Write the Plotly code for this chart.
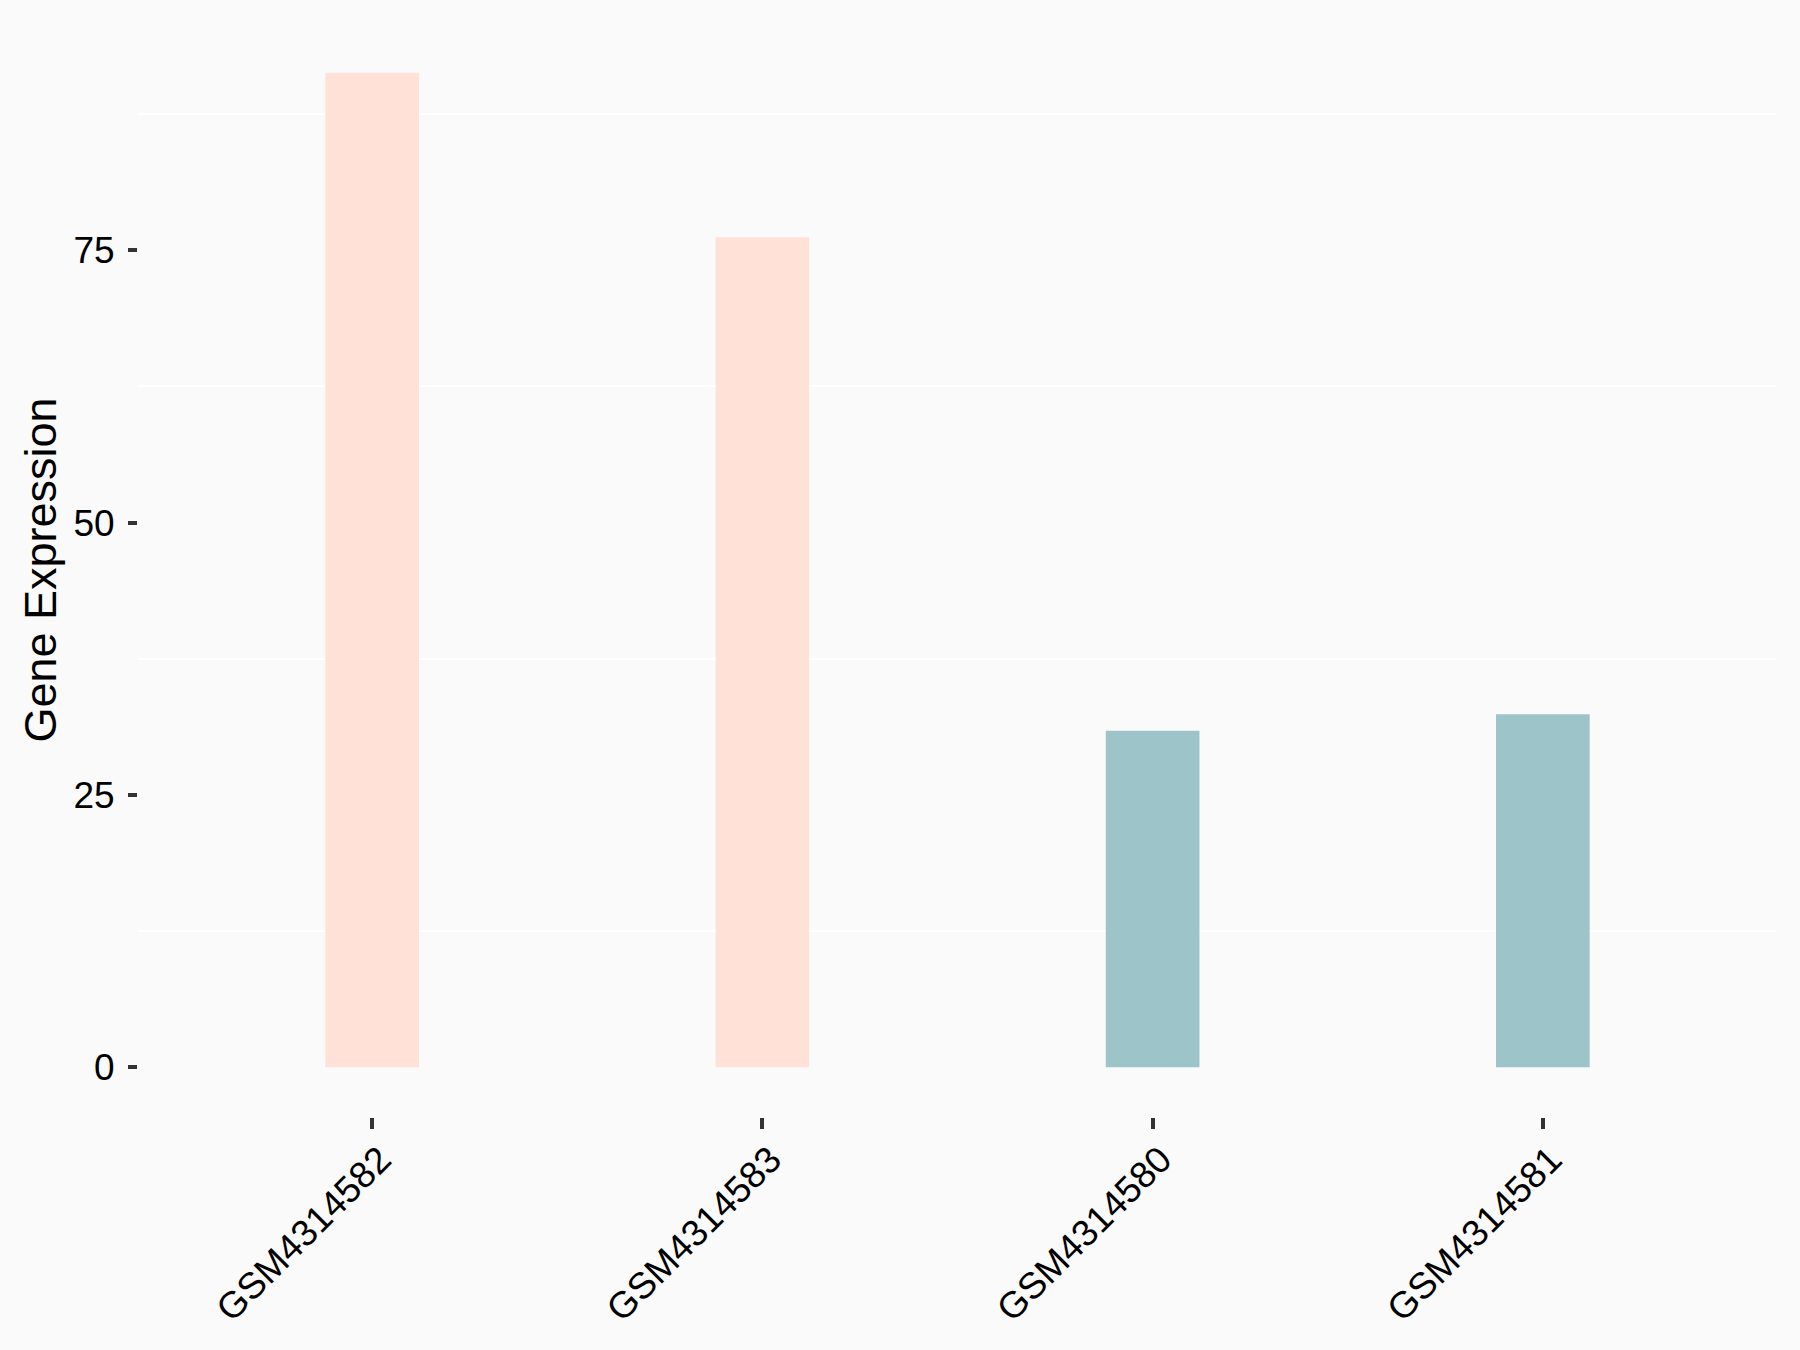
import plotly.graph_objects as go

samples = ["GSM4314582", "GSM4314583", "GSM4314580", "GSM4314581"]
expression = [91.3, 76.2, 30.9, 32.4]
groups = ["A", "A", "B", "B"]
group_colors = {"A": "#FFE1D7", "B": "#9DC4C8"}
y_ticks = [0, 25, 50, 75]
y_minor = [12.5, 37.5, 62.5, 87.5]

ymax = max(expression)
pad = 0.05 * ymax

fig = go.Figure()
fig.add_trace(go.Bar(
    x=samples, y=expression,
    marker=dict(color=[group_colors[g] for g in groups], line=dict(width=0)),
    width=0.24, showlegend=False,
))

font_family = "Liberation Sans, Arial, sans-serif"
fig.update_layout(
    width=1800, height=1350,
    paper_bgcolor="#FAFAFA", plot_bgcolor="#FAFAFA",
    margin=dict(l=138, r=23, t=23, b=233, autoexpand=False),
    font=dict(family=font_family, color="black"),
    xaxis=dict(
        type="category", range=[-0.6, 3.6],
        showgrid=False, zeroline=False, showline=False,
        ticks="outside", ticklen=11, tickwidth=3.5, tickcolor="#333333",
        tickangle=-45, tickfont=dict(size=37, color="black", family=font_family),
        ticklabelstandoff=-6, ticklabelshift=8,
    ),
    yaxis=dict(
        range=[-pad, ymax + pad],
        tickmode="array", tickvals=y_ticks, ticktext=[str(v) for v in y_ticks],
        showgrid=False, zeroline=False, showline=False,
        ticks="outside", ticklen=9, tickwidth=3.5, tickcolor="#333333",
        tickfont=dict(size=37, color="black", family=font_family),
        ticklabelstandoff=6,
        minor=dict(tickmode="array", tickvals=y_minor, showgrid=True,
                   gridcolor="white", gridwidth=1.5, ticks=""),
        title=dict(text="Gene Expression", font=dict(size=45, color="black", family=font_family),
                   standoff=2),
    ),
)

fig.write_html(
    "out.html",
    config={"displayModeBar": False},
    post_script="document.body.style.margin='0';document.body.style.background='#FAFAFA';",
)
